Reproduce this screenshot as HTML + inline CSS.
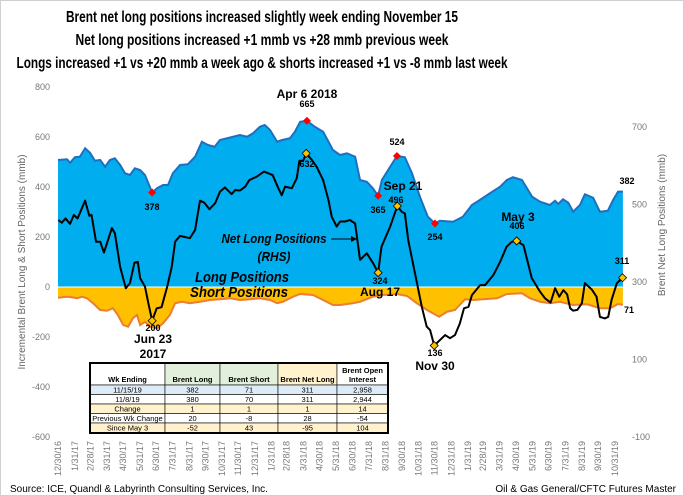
<!DOCTYPE html>
<html><head><meta charset="utf-8"><style>
body{margin:0;background:#fff}
svg{display:block;font-family:"Liberation Sans",sans-serif}
</style></head><body>
<svg id="chart" width="684" height="496" viewBox="0 0 684 496" xmlns="http://www.w3.org/2000/svg">
<rect x="0.5" y="0.5" width="683" height="495" fill="#fff" stroke="#d0d0d0"/>
<g font-weight="bold" font-size="16" text-anchor="middle">
<text x="262" y="22" textLength="392" lengthAdjust="spacingAndGlyphs">Brent net long positions increased slightly week ending November 15</text>
<text x="262" y="45" textLength="373" lengthAdjust="spacingAndGlyphs">Net long positions increased +1 mmb vs +28 mmb previous week</text>
<text x="262" y="68" textLength="491" lengthAdjust="spacingAndGlyphs">Longs increased +1 vs +20 mmb a week ago &amp; shorts increased +1 vs -8 mmb last week</text>
</g>
<g id="plot"></g>
<g id="annot"></g>
<g id="table"></g>
<text x="10" y="492" font-size="10" fill="#000">Source:  ICE, Quandl &amp; Labyrinth Consulting  Services, Inc.</text>
<text x="676" y="492" font-size="10" text-anchor="end" fill="#000">Oil &amp; Gas General/CFTC Futures Master</text>
</svg>
<script>
// Weeks since 12/30/2016
const longWeeks=[0,2.4,3.2,4.5,5.8,7.2,8.5,9.8,11.2,12.5,13.8,15.1,16.5,17.8,19.1,20.4,21.8,23.1,25.0,26.3,27.9,29.2,30.5,32.4,34.5,36.4,38.2,39.8,41.6,43.0,44.9,46.5,48.3,50.2,51.8,53.6,54.9,56.3,58.2,59.5,61.6,62.9,64.3,66.1,68.2,70.4,73.0,74.9,76.7,78.9,80.2,82.0,83.6,85.0,86.0,88.2,90.0,92.1,94.0,96.1,98.2,100.1,101.4,104.9,107.5,109.9,112.0,114.7,117.4,119.2,120.8,123.2,125.9,128.0,130.6,132.0,132.8,134.1,135.5,136.8,138.6,139.9,142.1,143.9,146.0,147.4,148.7,150.0];
const longValues=[508,511,497,519,521,555,537,505,508,481,508,515,488,455,448,475,468,448,378,395,408,408,455,488,491,521,581,568,561,588,595,601,608,601,615,641,648,628,581,588,595,621,661,665,641,621,548,528,535,521,428,421,395,365,428,481,524,519,455,361,281,254,265,261,281,328,348,375,401,428,439,428,361,341,328,345,332,351,337,301,328,371,357,301,305,348,381,382];
const shortWeeks=[0,2.4,3.7,5,6.4,7.7,9.3,11.2,13,14.6,15.9,17.3,18.6,19.9,21,21.8,23.1,24.4,26.3,27.9,29.7,31.1,32.9,35,37.7,40.4,43,45.7,48.3,51,53.6,56.3,58.2,59.7,62.4,64.3,67.7,70.4,73,74.9,78.3,80.2,83.6,86.3,90,92.7,95.3,98,101.2,103.3,105.4,108.1,110.2,112.9,116.6,119.2,123.2,125.3,128,130.6,133.3,136.8,140.5,143.9,146.6,148.7,150];
const shortValues=[43,39,41,45,39,45,65,92,95,85,112,152,159,125,112,152,139,159,165,145,112,65,59,65,59,52,49,45,52,49,45,52,65,59,39,28,32,52,72,72,65,59,39,32,28,36,65,92,119,99,92,49,52,49,45,28,25,45,59,65,59,72,69,85,85,68,71];
const netWeeks=[0.1,1.0,2.0,3.2,4.2,5.2,7.2,8.3,8.9,10.1,11.2,12.2,14.3,15.1,16.5,18.0,19.1,20.3,21.2,21.8,23.1,24.0,25.0,26.2,27.5,29.0,30.2,31.1,32.4,35.0,36.4,37.7,38.8,40.2,41.7,43.0,44.3,46.1,47.0,48.3,49.7,50.8,52.8,54.7,57.0,58.5,59.4,60.3,62.1,63.4,64.1,65.1,65.9,67.4,68.7,70.4,71.8,72.7,74.0,74.9,76.2,77.5,78.9,80.2,82.0,83.7,85.0,85.9,88.2,90.1,91.3,92.1,93.0,94.8,96.6,97.9,98.8,99.9,101.4,102.8,104.1,105.4,106.7,107.8,109.0,109.9,112.1,113.4,115.6,117.4,119.1,120.5,121.8,123.6,125.8,128.0,129.3,130.8,132.0,133.1,134.2,135.2,136.0,136.8,137.9,139.1,139.9,141.7,143.0,143.9,145.2,146.1,147.0,148.4,149.9];
const netValues=[460,453,464,450,473,464,510,471,473,404,404,376,439,426,339,284,297,350,352,310,288,245,200,232,235,288,339,404,419,413,434,510,505,488,503,533,544,527,537,536,546,563,572,585,576,542,524,546,542,568,613,613,632,615,597,563,512,468,443,456,456,460,451,357,374,348,324,391,443,496,481,477,408,322,236,185,176,136,150,163,155,163,193,232,236,266,292,292,318,352,391,404,406,395,310,275,258,247,284,262,279,268,232,226,228,245,297,281,262,210,206,210,254,297,311];
const leftTicks=[800,600,400,200,0,-200,-400,-600];
const rightTicks=[700,500,300,100,-100];
const monthLabels=["12/30/16","1/31/17","2/28/17","3/31/17","4/30/17","5/31/17","6/30/17","7/31/17","8/31/17","9/30/17","10/31/17","11/30/17","12/31/17","1/31/18","2/28/18","3/31/18","4/30/18","5/31/18","6/30/18","7/31/18","8/31/18","9/30/18","10/31/18","11/30/18","12/31/18","1/31/19","2/28/19","3/31/19","4/30/19","5/31/19","6/30/19","7/31/19","8/31/19","9/30/19","10/31/19"];
const longMarkers=[[25,378],[66.1,665],[85,365],[90.0,524],[100.1,254]];
const netMarkers=[[25,200],[65.9,632],[85,324],[90.1,496],[99.9,136],[121.8,406],[149.9,311]];
const tableHeaders=["Wk Ending","Brent Long","Brent Short","Brent Net Long","Brent Open Interest"];
const tableRows=[["11/15/19","382","71","311","2,958"],["11/8/19","380","70","311","2,944"],["Change","1","1","1","14"],["Previous Wk Change","20","-8","28","-54"],["Since May 3","-52","43","-95","104"]];

const NS="http://www.w3.org/2000/svg";
const x=w=>58+w*3.766;
const xDate=s=>{const [m,d,y]=s.split('/').map(Number);const t=Date.UTC(2000+y,m-1,d);return x((t-Date.UTC(2016,11,30))/864e5/7);};
const yL=v=>287-v*0.25;
const yR=v=>282-(v-300)*0.3875;
function el(tag,attrs,parent,text){const e=document.createElementNS(NS,tag);for(const k in attrs)e.setAttribute(k,attrs[k]);if(text!==undefined)e.textContent=text;parent.appendChild(e);return e;}
const plot=document.getElementById('plot');
let d=`M${x(longWeeks[0])},${yL(0)}`;longWeeks.forEach((w,i)=>d+=`L${x(w)},${yL(longValues[i])}`);d+=`L${x(longWeeks[longWeeks.length-1])},${yL(0)}Z`;
let a=el('path',{d,fill:'#00adef'},plot);


let ld='';longWeeks.forEach((w,i)=>ld+=(i?'L':'M')+x(w)+','+yL(longValues[i]));
a=el('path',{d:ld,fill:'none',stroke:'#1f6fbf','stroke-width':2},plot);


d=`M${x(shortWeeks[0])},${yL(0)}`;shortWeeks.forEach((w,i)=>d+=`L${x(w)},${yL(-shortValues[i])}`);d+=`L${x(shortWeeks[shortWeeks.length-1])},${yL(0)}Z`;
a=el('path',{d,fill:'#ffc000'},plot);


let sd='';shortWeeks.forEach((w,i)=>sd+=(i?'L':'M')+x(w)+','+yL(-shortValues[i]));
a=el('path',{d:sd,fill:'none',stroke:'#ed7d31','stroke-width':2},plot);


a=el('line',{x1:x(0),x2:x(150),y1:yL(0),y2:yL(0),stroke:'#fff','stroke-width':1},plot);


let nd='';netWeeks.forEach((w,i)=>nd+=(i?'L':'M')+x(w)+','+yR(netValues[i]));
a=el('path',{d:nd,fill:'none',stroke:'#000','stroke-width':2,'stroke-linejoin':'round'},plot);


leftTicks.forEach(t=>{const e=el('text',{x:50,y:yL(t)+3,'font-size':9,fill:'#777','text-anchor':'end'},plot,t);

});
rightTicks.forEach(t=>{const e=el('text',{x:632,y:yR(t)+3,'font-size':9,fill:'#777'},plot,t);

});
monthLabels.forEach(s=>{const xx=xDate(s)+3;const e=el('text',{x:xx,y:441,'font-size':9,fill:'#777','text-anchor':'end',transform:`rotate(-90 ${xx} 441)`},plot,s);

});
let t=el('text',{x:25,y:262,'font-size':10,fill:'#666','text-anchor':'middle',transform:'rotate(-90 25 262)'},plot,'Incremental  Brent Long & Short Positions (mmb)');


t=el('text',{x:665,y:225,'font-size':10,fill:'#666','text-anchor':'middle',transform:'rotate(-90 665 225)'},plot,'Brent  Net Long Positions (mmb)');


const an=document.getElementById('annot');
longMarkers.forEach(([w,v])=>{const cx=x(w),cy=yL(v);const m=el('path',{d:`M${cx},${cy-4}L${cx+4},${cy}L${cx},${cy+4}L${cx-4},${cy}Z`,fill:'#ff0000'},an);

});
netMarkers.forEach(([w,v])=>{const cx=x(w),cy=yR(v);const m=el('path',{d:`M${cx},${cy-4}L${cx+4},${cy}L${cx},${cy+4}L${cx-4},${cy}Z`,fill:'#ffc000',stroke:'#000','stroke-width':0.8},an);

});
const labels=[[152,210,'378',9],[307,107,'665',9],[378,213,'365',9],[397,145,'524',9],[435,240,'254',9],[307,167,'632',9],[153,331,'200',9],[396,203,'496',9],[380,284,'324',9],[435,356,'136',9],[517,229,'406',9],[622,264,'311',9],[627,184,'382',9],[629,313,'71',9],
[153,343,'Jun 23',12],[153,358,'2017',12],[307,98,'Apr 6 2018',12],[403,190,'Sep 21',12],[380,296,'Aug 17',12],[518,221,'May 3',12],[435,370,'Nov 30',12]];
labels.forEach(([lx,ly,s,fs])=>{const e=el('text',{x:lx,y:ly,'font-size':fs,'font-weight':'bold','text-anchor':'middle',fill:'#000'},an,s);

});
const it=[[274,243,'Net Long Positions',13,105],[274,261,'(RHS)',13,33],[242,282,'Long Positions',15,94],[239,297,'Short Positions',15,98]];
it.forEach(([lx,ly,s,fs,tl])=>{const e=el('text',{x:lx,y:ly,'font-size':fs,'font-weight':'bold','font-style':'italic','text-anchor':'middle',fill:'#000',textLength:tl,lengthAdjust:'spacingAndGlyphs'},an,s);

});
el('line',{x1:331,y1:239,x2:354,y2:239,stroke:'#000','stroke-width':1},an);
el('path',{d:'M357,239L351,236L351,242Z',fill:'#000'},an);
const tb=document.getElementById('table');
const cx=[90,165,220,278,337,388];
const ry=[363,385,394.5,404,413.5,423,433];
const hdrFill=['#fff','#e2efda','#e2efda','#fff2cc','#fff'];
const rowFill=['#ddebf7','#fff','#fff2cc','#fff','#fff2cc'];
el('rect',{x:90,y:363,width:298,height:70,fill:'#fff'},tb);
for(let c=0;c<5;c++){el('rect',{x:cx[c],y:ry[0],width:cx[c+1]-cx[c],height:ry[1]-ry[0],fill:hdrFill[c],stroke:'#000','stroke-width':0.6},tb);}
tableRows.forEach((r,i)=>r.forEach((v,c)=>{el('rect',{x:cx[c],y:ry[i+1],width:cx[c+1]-cx[c],height:ry[i+2]-ry[i+1],fill:rowFill[i],stroke:'#000','stroke-width':0.6},tb);
const e=el('text',{x:(cx[c]+cx[c+1])/2,y:ry[i+1]+7.5,'font-size':7.5,'text-anchor':'middle'},tb,v);

}));
tableHeaders.forEach((h,c)=>{const mx=(cx[c]+cx[c+1])/2;
if(c===4){el('text',{x:mx,y:373,'font-size':7.5,'font-weight':'bold','text-anchor':'middle'},tb,'Brent Open');el('text',{x:mx,y:382,'font-size':7.5,'font-weight':'bold','text-anchor':'middle'},tb,'Interest');}
else{const e=el('text',{x:mx,y:382,'font-size':7.5,'font-weight':'bold','text-anchor':'middle'},tb,h);

}});
el('rect',{x:90,y:363,width:298,height:70,fill:'none',stroke:'#000','stroke-width':2},tb);
</script>
</body></html>
